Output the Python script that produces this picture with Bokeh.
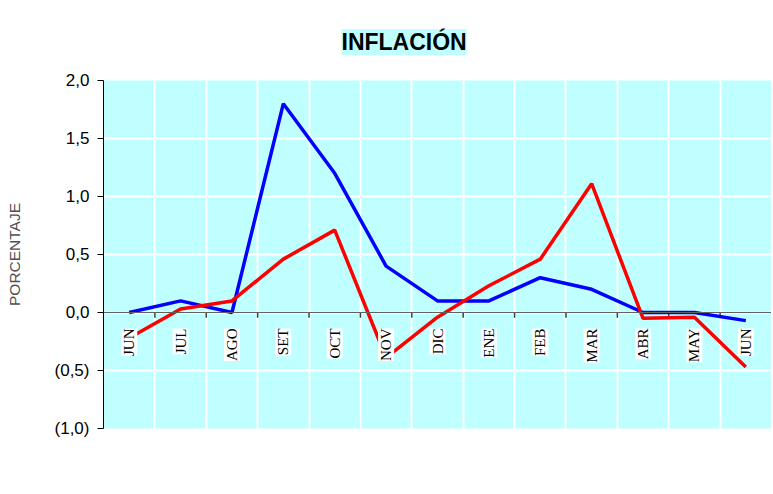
import math
from bokeh.plotting import figure
from bokeh.models import (ColumnDataSource, LabelSet, FixedTicker, Legend, LegendItem,
                          Range1d, Title, Span)
from bokeh.embed import file_html
from bokeh.resources import INLINE

months = ["JUN", "JUL", "AGO", "SET", "OCT", "NOV", "DIC", "ENE", "FEB", "MAR", "ABR", "MAY", "JUN"]
puno = [0.0, 0.1, 0.0, 1.8, 1.2, 0.4, 0.1, 0.1, 0.3, 0.2, 0.0, 0.0, -0.07]
lima = [-0.22, 0.03, 0.1, 0.46, 0.71, -0.39, -0.04, 0.23, 0.46, 1.11, -0.05, -0.04, -0.47]
y_ticks = [-1.0, -0.5, 0.0, 0.5, 1.0, 1.5, 2.0]
y_tick_labels = ["(1,0)", "(0,5)", "0,0", "0,5", "1,0", "1,5", "2,0"]
title_text = "INFLACIÓN"

idx = list(range(len(months)))
bounds = [i + 0.5 for i in idx[:-1]]

p = figure(frame_width=668, frame_height=348, output_backend="svg", toolbar_location=None,
           x_range=Range1d(-0.5, len(months) - 0.5), y_range=Range1d(-1.0, 2.0),
           min_border_left=103, min_border_right=0, min_border_top=80, min_border_bottom=8)
p.background_fill_color = "#C0FFFF"
p.border_fill_color = "white"
p.outline_line_color = None

t = Title(text=title_text, align="left", offset=238, text_font="Liberation Sans",
          text_font_size="23px", text_font_style="bold", text_color="black",
          background_fill_color="#C0FFFF", standoff=51)
p.add_layout(t, "above")

# y axis
p.yaxis.ticker = FixedTicker(ticks=y_ticks)
p.yaxis.major_label_overrides = {v: s for v, s in zip(y_ticks, y_tick_labels)}
p.yaxis.major_label_text_font = "Liberation Sans"
p.yaxis.major_label_text_font_size = "17px"
p.yaxis.major_label_text_color = "black"
p.yaxis.axis_line_color = "black"
p.yaxis.major_tick_line_color = "black"
p.yaxis.major_tick_in = 0
p.yaxis.major_tick_out = 6
p.yaxis.minor_tick_line_color = None
p.yaxis.major_label_standoff = 8
p.yaxis.axis_label = "PORCENTAJE"
p.yaxis.axis_label_text_font = "Liberation Sans"
p.yaxis.axis_label_text_font_size = "15.5px"
p.yaxis.axis_label_text_font_style = "normal"
p.yaxis.axis_label_text_color = "#505050"
p.yaxis.axis_label_standoff = 29

p.xaxis.visible = False

p.xgrid.ticker = FixedTicker(ticks=bounds)
p.xgrid.grid_line_color = "white"
p.xgrid.grid_line_width = 2
p.ygrid.ticker = FixedTicker(ticks=y_ticks)
p.ygrid.grid_line_color = "white"
p.ygrid.grid_line_width = 2

# zero line with small ticks at category boundaries
p.add_layout(Span(location=0, dimension="width", line_color="#606060", line_width=1))
tick_len = 0.045
p.segment(x0=bounds, x1=bounds, y0=[0.0] * len(bounds), y1=[-tick_len] * len(bounds),
          line_color="#404040", line_width=1.5)

src = ColumnDataSource(dict(x=idx, puno=puno, lima=lima, m=months, z=[0.0] * len(months)))
r1 = p.line("x", "puno", source=src, line_color="#0000FF", line_width=3.5)
r2 = p.line("x", "lima", source=src, line_color="#FF0000", line_width=3.5)

labels = LabelSet(x="x", y="z", text="m", source=src, angle=math.pi / 2,
                  text_align="right", text_baseline="middle", y_offset=-16,
                  text_font="Liberation Sans",
                  text_font_size="15px", text_color="black",
                  background_fill_color="white")
p.add_layout(labels)

legend = Legend(items=[LegendItem(label="PUNO", renderers=[r1]),
                       LegendItem(label="LIMA", renderers=[r2])],
                orientation="horizontal", location="center",
                label_text_font="Liberation Sans", label_text_font_size="20px",
                glyph_width=53, label_standoff=6, spacing=12,
                border_line_color=None, background_fill_alpha=0, padding=3, margin=0)
p.add_layout(legend, "below")

open("out.html", "w").write(file_html(p, INLINE))
